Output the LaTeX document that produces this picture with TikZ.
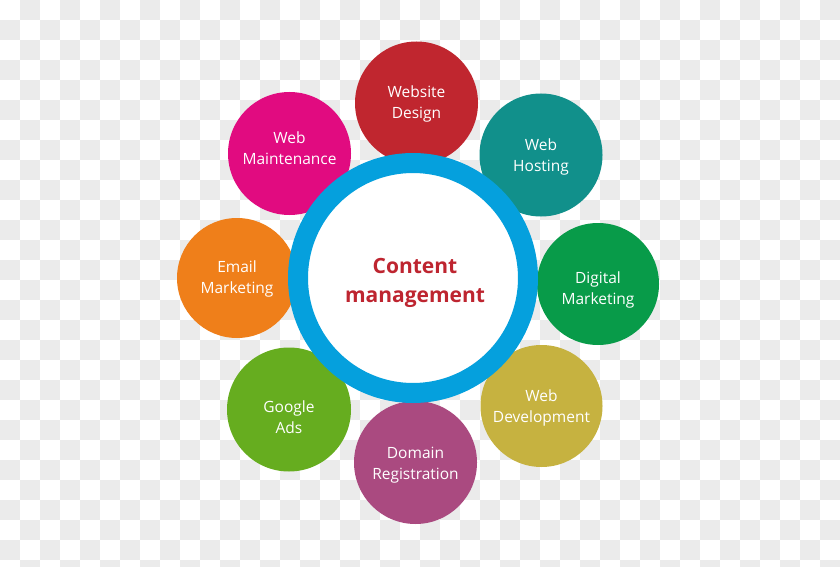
\documentclass[tikz,border=0pt]{standalone}
\usepackage{fontspec}
\setmainfont{Open Sans}
\definecolor{checkgrey}{HTML}{EBEBEB}
\definecolor{cred}{HTML}{C0262F}
\definecolor{cteal}{HTML}{11908B}
\definecolor{cmagenta}{HTML}{E10B80}
\definecolor{corange}{HTML}{EF7F1A}
\definecolor{cgreen}{HTML}{089B49}
\definecolor{colive}{HTML}{C6B240}
\definecolor{cpurple}{HTML}{AA4A80}
\definecolor{clime}{HTML}{66AD1F}
\definecolor{cblue}{HTML}{05A0DD}
\definecolor{ctext}{HTML}{BE2530}
\tikzset{
  sat/.style={circle, inner sep=0pt, outer sep=0pt, minimum size=123pt},
  sattext/.style={inner sep=0pt, text=white, align=center,
    font=\fontsize{15.5}{21}\selectfont},
  hub/.style={circle, inner sep=0pt, outer sep=0pt, minimum size=230pt, fill=white,
    draw=cblue, line width=20pt},
  hubtext/.style={inner sep=0pt, text=ctext, align=center,
    font=\fontsize{21}{28.5}\selectfont\bfseries}
}
\begin{document}
\begin{tikzpicture}[x=1pt,y=-1pt]
\useasboundingbox (0,0) rectangle (840,567);
\fill[white] (0,0) rectangle (840,567);
\begin{scope}
\clip (0,0) rectangle (840,567);
\foreach \i in {0,...,41}{
  \foreach \j in {0,...,28}{
    \pgfmathtruncatemacro{\chkpar}{mod(\i+\j,2)}
    \ifnum\chkpar=1
      \fill[checkgrey] (20*\i,20*\j) rectangle (20*\i+20,20*\j+20);
    \fi
  }
}
\end{scope}
\node[sat, fill=cred]     (design)  at (416.5,103)  {};
\node[sat, fill=cteal]    (hosting) at (541,155)    {};
\node[sat, fill=cmagenta] (maint)   at (289.5,153.5){};
\node[sat, fill=corange, minimum size=120pt] (email) at (237,278) {};
\node[sat, fill=cgreen, minimum size=122pt]  (digital) at (598,284) {};
\node[sat, fill=colive, minimum size=122pt]  (dev) at (541.5,406) {};
\node[sat, fill=cpurple]  (domain)  at (415.5,462.5){};
\node[sat, fill=clime, minimum size=124pt] (google) at (289,409.5) {};

\node[sattext] (designtext)  at ([yshift=-1pt]design.center)  {Website\\Design};
\node[sattext] (hostingtext) at ([yshift=-2pt]hosting.center) {Web\\Hosting};
\node[sattext] (mainttext)   at ([yshift=5pt]maint.center)    {Web\\Maintenance};
\node[sattext] (emailtext)   at ([yshift=-1pt]email.center)   {Email\\Marketing};
\node[sattext] (digitaltext) at ([yshift=-6pt]digital.center) {Digital\\Marketing};
\node[sattext] (devtext)     at ([yshift=-2pt]dev.center)     {Web\\Development};
\node[sattext] (domaintext)  at ([yshift=-3pt]domain.center)  {Domain\\Registration};
\node[sattext] (googletext)  at ([yshift=-8pt]google.center)  {Google\\Ads};

\node[hub] (cm) at (413,278) {};
\node[hubtext] (cmtext) at ([xshift=2pt,yshift=-5pt]cm.center) {Content\\management};
\end{tikzpicture}
\end{document}
